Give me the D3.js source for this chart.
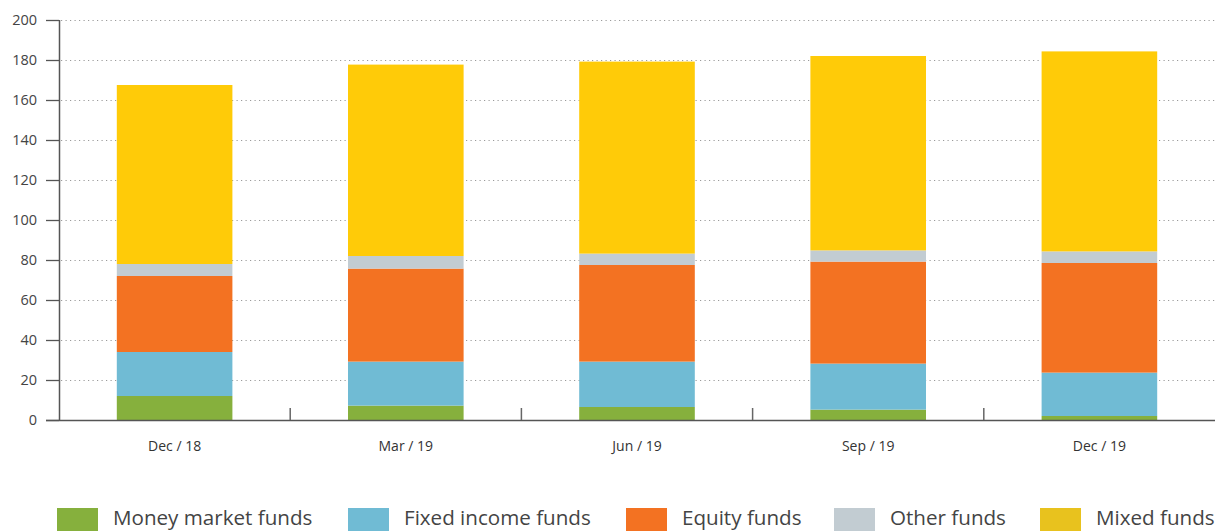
<!DOCTYPE html>
<html><head><meta charset="utf-8">
<script src="https://cdn.jsdelivr.net/npm/d3@7"></script>
<style>
html,body{margin:0;padding:0;background:#fff;}
svg{display:block;font-family:"Open Sans",sans-serif;}
</style></head>
<body><svg id="c" width="1215" height="531"></svg>
<script>
const categories = ["Dec / 18", "Mar / 19", "Jun / 19", "Sep / 19", "Dec / 19"];
const seriesNames = ["Money market funds", "Fixed income funds", "Equity funds", "Other funds", "Mixed funds"];
const moneyMarket = [12, 7.2, 6.5, 5.2, 2];
const fixedIncome = [22, 22, 22.7, 23, 21.7];
const equity = [38, 46.5, 48.3, 51, 54.8];
const other = [6, 6.3, 5.7, 5.6, 5.8];
const mixed = [89.5, 95.7, 96, 97.2, 100];
const yTicks = [0, 20, 40, 60, 80, 100, 120, 140, 160, 180, 200];
const barColors = ["#86b03d", "#70bbd4", "#f37222", "#c2ccd2", "#ffcb08"];
const legendColors = ["#86b03d", "#70bbd4", "#f37222", "#c2ccd2", "#e8c21e"];

const seriesValues = [moneyMarket, fixedIncome, equity, other, mixed];
const rows = categories.map((c, i) => {
  const r = {cat: c};
  seriesNames.forEach((s, j) => r[s] = seriesValues[j][i]);
  return r;
});

const svg = d3.select("#c");
const x0 = 59, x1 = 1215, yTop = 20, yBot = 420;
const x = d3.scaleBand().domain(categories).range([x0, x1]).paddingInner(0.5).paddingOuter(0.25);
const xb = d3.scaleBand().domain(categories).range([x0, x1]).padding(0);
const y = d3.scaleLinear().domain([0, 200]).range([yBot, yTop]);

// grid
svg.append("g").selectAll("line").data(yTicks.filter(d => d > 0)).join("line")
  .attr("x1", x0 + 2).attr("x2", x1).attr("y1", d => y(d) + 0.5).attr("y2", d => y(d) + 0.5)
  .attr("stroke", "#9a9a9a").attr("stroke-width", 1).attr("stroke-dasharray", "1.2,3.3");

// bars
const stack = d3.stack().keys(seriesNames)(rows);
svg.append("g").selectAll("g").data(stack).join("g")
  .attr("fill", (d, i) => barColors[i])
  .selectAll("rect").data(d => d).join("rect")
  .attr("x", d => x(d.data.cat)).attr("width", x.bandwidth())
  .attr("y", d => y(d[1])).attr("height", d => y(d[0]) - y(d[1]));

// y axis
const yAxis = d3.axisLeft(y).tickValues(yTicks).tickSize(13).tickPadding(9);
const gy = svg.append("g").attr("transform", `translate(${x0},0)`).call(yAxis);
gy.select(".domain").attr("stroke", "#555").attr("stroke-width", 1.5).attr("d", `M0.5,${yTop}V${yBot}`);
gy.selectAll(".tick line").attr("stroke", "#555").attr("stroke-width", 1.3);
gy.selectAll(".tick text").attr("font-size", 14.5).attr("fill", "#444").attr("font-family", "Open Sans, sans-serif");

// x axis
const gx = svg.append("g").attr("transform", `translate(0,${yBot})`);
gx.append("line").attr("x1", 46).attr("x2", x1).attr("y1", 0.5).attr("y2", 0.5).attr("stroke", "#555").attr("stroke-width", 1.5);
gx.selectAll("line.sep").data(categories.slice(1)).join("line").attr("class", "sep")
  .attr("x1", d => xb(d)).attr("x2", d => xb(d)).attr("y1", 0).attr("y2", -12)
  .attr("stroke", "#666").attr("stroke-width", 1.5);
gx.selectAll("text").data(categories).join("text")
  .attr("x", d => x(d) + x.bandwidth() / 2).attr("y", 31)
  .attr("text-anchor", "middle").attr("font-size", 14).attr("fill", "#333").text(d => d);

// legend
const legX = [57, 348, 626, 834, 1040];
const lg = svg.append("g").selectAll("g").data(seriesNames).join("g")
  .attr("transform", (d, i) => `translate(${legX[i]},508)`);
lg.append("rect").attr("width", 41).attr("height", 24).attr("fill", (d, i) => legendColors[i]);
lg.append("text").attr("x", 56).attr("y", 17).attr("font-size", 20.6).attr("fill", "#444").text(d => d);
</script></body></html>
